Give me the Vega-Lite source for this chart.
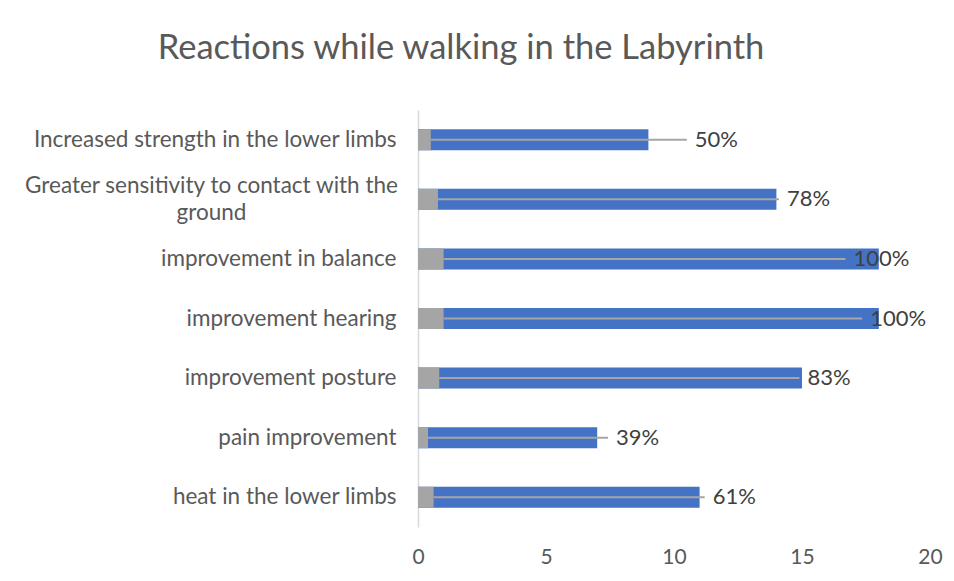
{
  "$schema": "https://vega.github.io/schema/vega-lite/v6.json",
  "autosize": "none",
  "width": 512,
  "height": 417,
  "padding": {"left": 418, "top": 110, "right": 24, "bottom": 54},
  "background": "white",
  "config": {"view": {"stroke": null}, "font": "Lato"},
  "title": {
    "text": "Reactions while walking in the Labyrinth",
    "font": "Lato",
    "fontSize": 34.5,
    "fontWeight": "normal",
    "color": "#595959",
    "anchor": "middle",
    "dx": -213,
    "offset": 44
  },
  "data": {
    "values": [
      {"reaction": "Increased strength in the lower limbs", "count": 9, "pct": 0.5, "labelAt": 10.5},
      {"reaction": "Greater sensitivity to contact with the ground", "count": 14, "pct": 0.78, "labelAt": 14.1},
      {"reaction": "improvement in balance", "count": 18, "pct": 1.0, "labelAt": 16.7},
      {"reaction": "improvement hearing", "count": 18, "pct": 1.0, "labelAt": 17.35},
      {"reaction": "improvement posture", "count": 15, "pct": 0.83, "labelAt": 14.9},
      {"reaction": "pain improvement", "count": 7, "pct": 0.39, "labelAt": 7.42},
      {"reaction": "heat in the lower limbs", "count": 11, "pct": 0.61, "labelAt": 11.2}
    ]
  },
  "encoding": {
    "y": {
      "field": "reaction",
      "type": "nominal",
      "sort": null,
      "scale": {"paddingInner": 0.647, "paddingOuter": 0.3235},
      "axis": {
        "title": null,
        "ticks": false,
        "domainColor": "#D9D9D9",
        "domainWidth": 1.5,
        "labelFont": "Lato",
        "labelFontSize": 22.5,
        "labelColor": "#595959",
        "labelPadding": {"condition": {"test": "datum.value == 'Greater sensitivity to contact with the ground'", "value": 207}, "value": 22},
        "labelAlign": {"condition": {"test": "datum.value == 'Greater sensitivity to contact with the ground'", "value": "center"}, "value": "right"},
        "labelOffset": {"condition": {"test": "datum.value == 'Greater sensitivity to contact with the ground'", "value": -13}, "value": 0},
        "labelLimit": 420,
        "labelLineHeight": 27,
        "labelExpr": "datum.value == 'Greater sensitivity to contact with the ground' ? ['Greater sensitivity to contact with the', 'ground'] : datum.value"
      }
    }
  },
  "layer": [
    {
      "mark": {"type": "bar", "color": "#4472C4"},
      "encoding": {
        "x": {
          "field": "count",
          "type": "quantitative",
          "scale": {"domain": [0, 20]},
          "axis": {
            "title": null,
            "values": [0, 5, 10, 15, 20],
            "grid": false,
            "domain": false,
            "ticks": false,
            "labelFont": "Lato",
            "labelFontSize": 21,
            "labelColor": "#595959",
            "labelPadding": 19,
            "labelFlush": false
          }
        }
      }
    },
    {
      "mark": {"type": "bar", "color": "#A5A5A5"},
      "encoding": {"x": {"field": "pct", "type": "quantitative"}}
    },
    {
      "mark": {"type": "rule", "color": "#A6A6A6", "strokeWidth": 2},
      "encoding": {
        "x": {"field": "pct", "type": "quantitative"},
        "x2": {"field": "labelAt"}
      }
    },
    {
      "mark": {"type": "text", "align": "left", "baseline": "middle", "dx": 8, "font": "Lato", "fontSize": 22, "color": "#404040"},
      "encoding": {
        "x": {"field": "labelAt", "type": "quantitative"},
        "text": {"field": "pct", "type": "quantitative", "format": ".0%"}
      }
    }
  ]
}
